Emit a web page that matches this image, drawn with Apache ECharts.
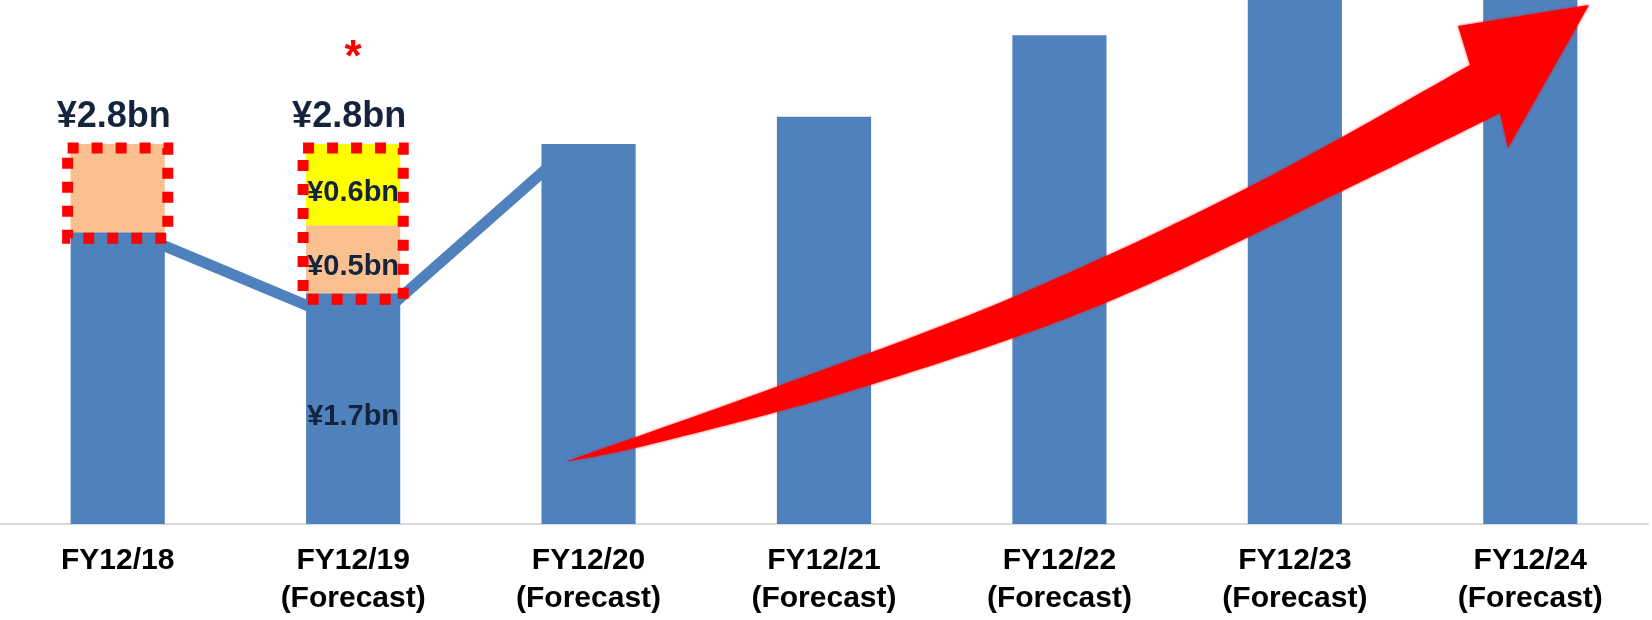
<!DOCTYPE html>
<html>
<head>
<meta charset="utf-8">
<script src="https://cdn.jsdelivr.net/npm/echarts@6/dist/echarts.min.js"></script>
<style>
  html, body { margin: 0; padding: 0; background: #ffffff; }
  #chart { width: 1652px; height: 620px; }
</style>
</head>
<body>
<div id="chart"></div>
<script>
// Fiscal years on the category axis
const categories = [
  'FY12/18',
  'FY12/19\n(Forecast)',
  'FY12/20\n(Forecast)',
  'FY12/21\n(Forecast)',
  'FY12/22\n(Forecast)',
  'FY12/23\n(Forecast)',
  'FY12/24\n(Forecast)'
];

// Profit in ¥bn: core part and the two add-on parts stacked above it
const coreProfit = [2.15, 1.7, 2.8, 3.0, 3.6, 4.3, 5.0];
const addOnOrange = [0.65, 0.5, null, null, null, null, null];
const addOnYellow = [null, 0.6, null, null, null, null, null];

// Which segments carry a value label inside them
const coreLabelled = [false, true, false, false, false, false, false];
const orangeLabelled = [false, true, false, false, false, false, false];
const yellowLabelled = [false, true, false, false, false, false, false];

// Years whose add-on parts are outlined, with the total written above
const framedYears = [0, 1];
const starredYears = [1];

// Connector between bars: [fromYear, fromValue, toYear, toValue]
const bridgeFrom = [0, 1];
const bridgeFromValue = [2.06, 1.64];
const bridgeTo = [1, 2];
const bridgeToValue = [1.60, 2.61];

const BLUE = '#4f81bd';
const ORANGE = '#fac090';
const YELLOW = '#ffff00';
const RED = '#ff0000';
const INK = '#14243c';
const FONT = '"Liberation Sans", Arial, Helvetica, sans-serif';
const BAR_RATIO = 0.4;

const fmt = v => '¥' + v.toFixed(1) + 'bn';

function total(i) {
  return coreProfit[i] + (addOnOrange[i] || 0) + (addOnYellow[i] || 0);
}

function segData(values, labelled) {
  return values.map((v, i) => ({
    value: v == null ? '-' : v,
    label: { show: !!labelled[i] && v != null }
  }));
}

const insideLabel = {
  position: 'inside',
  offset: [0, 8],
  formatter: p => fmt(p.value),
  color: INK,
  fontSize: 29,
  fontWeight: 'bold',
  fontFamily: FONT
};

const frameData = framedYears.map(i => [i, coreProfit[i], total(i), starredYears.indexOf(i) >= 0 ? 1 : 0]);
const bridgeData = bridgeFrom.map((f, k) => [f, bridgeFromValue[k], bridgeTo[k], bridgeToValue[k]]);

// Red growth arrow (screen pixels): curved tapering shaft and a barbed head
const shaftTop = [[565, 462], [776, 387], [1011, 298], [1247, 188], [1470, 65]];
const arrowHead = [[1458, 26], [1589, 5], [1508, 148], [1500, 113]];
const shaftBottom = [[1500, 113], [1340, 192], [1105, 303], [870, 385], [660, 442], [565, 462]];

// Sample a Catmull-Rom curve through the points
function curveThrough(pts, steps) {
  const out = [];
  for (let i = 0; i < pts.length - 1; i++) {
    const p0 = pts[i - 1] || pts[i];
    const p1 = pts[i];
    const p2 = pts[i + 1];
    const p3 = pts[i + 2] || p2;
    const c1 = [p1[0] + (p2[0] - p0[0]) / 6, p1[1] + (p2[1] - p0[1]) / 6];
    const c2 = [p2[0] - (p3[0] - p1[0]) / 6, p2[1] - (p3[1] - p1[1]) / 6];
    for (let s = (i === 0 ? 0 : 1); s <= steps; s++) {
      const t = s / steps, u = 1 - t;
      const a = u * u * u, b = 3 * u * u * t, c = 3 * u * t * t, d = t * t * t;
      out.push([
        a * p1[0] + b * c1[0] + c * c2[0] + d * p2[0],
        a * p1[1] + b * c1[1] + c * c2[1] + d * p2[1]
      ]);
    }
  }
  return out;
}

const arrowOutline = curveThrough(shaftTop, 16)
  .concat(arrowHead.slice(0, 3))
  .concat(curveThrough(shaftBottom, 16));

const chart = echarts.init(document.getElementById('chart'), null, { renderer: 'canvas' });

chart.setOption({
  animation: false,
  backgroundColor: '#ffffff',
  grid: { left: 0, right: 4, top: 0, bottom: 96, containLabel: false },
  xAxis: {
    type: 'category',
    data: categories,
    axisLine: { show: true, lineStyle: { color: '#d9d9d9', width: 2 } },
    axisTick: { show: false },
    splitLine: { show: false },
    axisLabel: {
      interval: 0,
      margin: 18,
      color: '#000000',
      fontSize: 30,
      lineHeight: 38,
      fontWeight: 'bold',
      fontFamily: FONT
    }
  },
  yAxis: {
    type: 'value',
    min: 0,
    max: 3.86,
    show: false,
    splitLine: { show: false }
  },
  series: [
    {
      name: 'bridge',
      type: 'custom',
      z: 1,
      encode: { x: [0, 2], y: [1, 3] },
      data: bridgeData,
      renderItem: (params, api) => {
        const p0 = api.coord([api.value(0), api.value(1)]);
        const p1 = api.coord([api.value(2), api.value(3)]);
        const half = api.size([1, 0])[0] * BAR_RATIO / 2;
        return {
          type: 'line',
          shape: { x1: p0[0] + half - 4, y1: p0[1], x2: p1[0] - half + 4, y2: p1[1] },
          style: { stroke: BLUE, lineWidth: 11 }
        };
      }
    },
    {
      name: 'core',
      type: 'bar',
      stack: 'profit',
      z: 2,
      barWidth: BAR_RATIO * 100 + '%',
      itemStyle: { color: BLUE },
      label: insideLabel,
      data: segData(coreProfit, coreLabelled)
    },
    {
      name: 'addOnOrange',
      type: 'bar',
      stack: 'profit',
      z: 2,
      itemStyle: { color: ORANGE },
      label: insideLabel,
      data: segData(addOnOrange, orangeLabelled)
    },
    {
      name: 'addOnYellow',
      type: 'bar',
      stack: 'profit',
      z: 2,
      itemStyle: { color: YELLOW },
      label: insideLabel,
      data: segData(addOnYellow, yellowLabelled)
    },
    {
      name: 'frame',
      type: 'custom',
      z: 5,
      encode: { x: 0, y: [1, 2] },
      data: frameData,
      renderItem: (params, api) => {
        const c = api.value(0);
        const lo = api.coord([c, api.value(1)]);
        const hi = api.coord([c, api.value(2)]);
        const half = api.size([1, 0])[0] * BAR_RATIO / 2 + 3;
        const children = [
          {
            type: 'rect',
            shape: { x: lo[0] - half, y: hi[1] + 4, width: half * 2, height: lo[1] - hi[1] + 2 },
            style: { fill: 'none', stroke: RED, lineWidth: 11, lineDash: [11, 13] }
          },
          {
            type: 'text',
            style: {
              text: fmt(api.value(2)),
              x: lo[0] - 4,
              y: hi[1] - 9,
              align: 'center',
              verticalAlign: 'bottom',
              font: 'bold 36px ' + FONT,
              fill: INK
            }
          }
        ];
        if (api.value(3)) {
          children.push({
            type: 'text',
            style: {
              text: '*',
              x: lo[0],
              y: hi[1] - 85,
              align: 'center',
              verticalAlign: 'middle',
              font: 'bold 44px ' + FONT,
              fill: RED
            }
          });
        }
        return { type: 'group', children };
      }
    }
  ],
  graphic: [
    {
      type: 'polygon',
      z: 100,
      shape: { points: arrowOutline },
      style: { fill: RED, shadowBlur: 3, shadowColor: 'rgba(255,0,0,0.7)' }
    }
  ]
});
</script>
</body>
</html>
